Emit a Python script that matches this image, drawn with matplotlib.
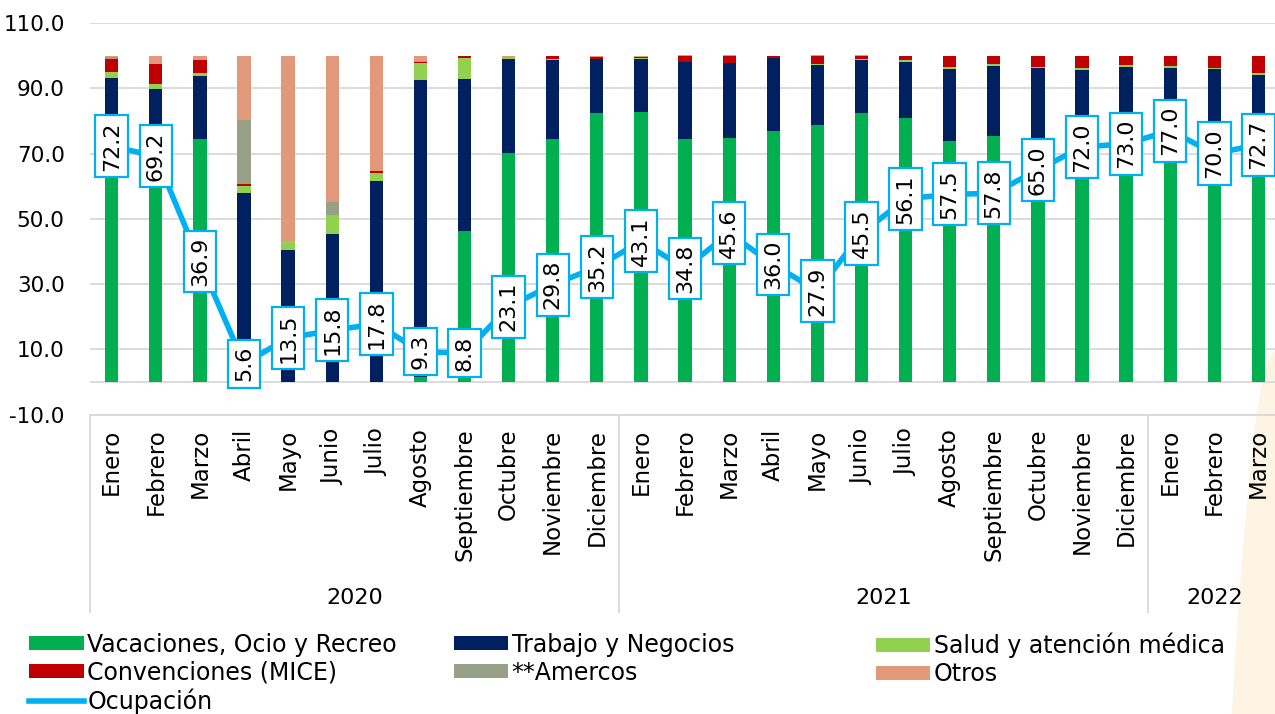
import numpy as np
import matplotlib
matplotlib.use("Agg")
import matplotlib.pyplot as plt
from matplotlib.patches import Polygon, Patch
from matplotlib.lines import Line2D
import matplotlib.transforms as mtransforms

plt.rcParams["font.family"] = ["DejaVu Sans"]

meses = ["Enero", "Febrero", "Marzo", "Abril", "Mayo", "Junio", "Julio", "Agosto",
         "Septiembre", "Octubre", "Noviembre", "Diciembre"]
categorias = meses + meses + ["Enero", "Febrero", "Marzo"]
years = ["2020", "2021", "2022"]
year_sizes = [12, 12, 3]

vacaciones = [76.0, 72.0, 74.4, 0.0, 0.0, 0.0, 0.0, 1.4, 46.4, 70.3, 74.4, 82.4,
              82.6, 74.4, 74.9, 77.0, 78.6, 82.3, 80.9, 73.8, 75.5, 72.0, 76.0, 78.0,
              80.0, 74.0, 78.0]
trabajo = [17.2, 17.8, 19.4, 58.0, 40.5, 45.2, 61.6, 91.1, 46.5, 28.6, 24.4, 16.5,
           16.5, 23.7, 22.7, 22.2, 18.4, 16.5, 17.3, 22.2, 21.3, 24.2, 19.7, 18.6,
           16.3, 21.8, 16.1]
salud = [1.8, 1.5, 1.0, 2.1, 2.8, 5.9, 2.4, 5.3, 6.5, 0.3, 0.1, 0.2,
         0.1, 0.1, 0.1, 0.1, 0.5, 0.1, 0.4, 0.4, 0.5, 0.3, 0.4, 0.4,
         0.4, 0.5, 0.7]
mice = [3.9, 6.2, 4.0, 0.6, 0.0, 0.0, 0.7, 0.1, 0.4, 0.2, 1.1, 0.6,
        0.4, 1.8, 2.3, 0.5, 2.5, 0.9, 1.3, 3.6, 2.7, 3.5, 3.9, 3.0,
        3.3, 3.7, 5.2]
amercos = [0.7, 0.0, 0.0, 19.5, 0.0, 4.2, 0.0, 0.6, 0.0, 0.0, 0.0, 0.0,
           0.0, 0.0, 0.0, 0.0, 0.0, 0.0, 0.0, 0.0, 0.0, 0.0, 0.0, 0.0,
           0.0, 0.0, 0.0]
otros = [0.4, 2.5, 1.2, 19.8, 56.7, 44.7, 35.3, 1.5, 0.2, 0.6, 0.0, 0.3,
         0.4, 0.1, 0.1, 0.2, 0.1, 0.3, 0.1, 0.0, 0.0, 0.0, 0.0, 0.0,
         0.0, 0.0, 0.0]
ocupacion = [72.2, 69.2, 36.9, 5.6, 13.5, 15.8, 17.8, 9.3, 8.8, 23.1, 29.8, 35.2,
             43.1, 34.8, 45.6, 36.0, 27.9, 45.5, 56.1, 57.5, 57.8, 65.0, 72.0, 73.0,
             77.0, 70.0, 72.7]

series = [
    ("Vacaciones, Ocio y Recreo", vacaciones, "#00B050"),
    ("Trabajo y Negocios", trabajo, "#002060"),
    ("Salud y atención médica", salud, "#92D050"),
    ("Convenciones (MICE)", mice, "#C00000"),
    ("**Amercos", amercos, "#97A187"),
    ("Otros", otros, "#E2997A"),
]
line_color = "#00B0F0"

fig = plt.figure(figsize=(12.75, 7.14), dpi=100)

# decorative cream shape at the right edge, behind everything
t = np.linspace(0, 1, 30)
shape_x = 1.0 - 0.034 * np.sqrt(t)
shape_y = 0.51 * (1 - t)
pts = list(zip(shape_x, shape_y)) + [(1.0, 0.0)]
fig.patches.append(Polygon(pts, closed=True, transform=fig.transFigure, facecolor="#FEF4E4",
                           edgecolor="none", zorder=-5))

ax = fig.add_axes([0.0703, 0.4193, 0.934, 0.5485])
ax.set_facecolor("none")
ax.set_zorder(1)

x = np.arange(len(categorias))
bottom = np.zeros(len(categorias))
for name, vals, col in series:
    ax.bar(x, vals, width=0.3, bottom=bottom, color=col, label=name, zorder=2)
    bottom += np.array(vals)

ax.plot(x, ocupacion, color=line_color, lw=4, zorder=3, solid_capstyle="round")
for xi, v in zip(x, ocupacion):
    ax.text(xi, v, f"{v:.1f}", rotation=90, ha="center", va="center", fontsize=16,
            zorder=4, bbox=dict(boxstyle="square,pad=0.28", fc="white", ec=line_color, lw=1.6))

ax.set_ylim(-10, 110)
ax.set_xlim(-0.5, len(categorias) - 0.5)
ax.set_yticks(np.arange(-10, 111, 20))
ax.yaxis.set_major_formatter(matplotlib.ticker.FormatStrFormatter("%.1f"))
ax.grid(axis="y", color="#D9D9D9", lw=1.3, zorder=0)
ax.axhline(0, color="#D9D9D9", lw=1.3, zorder=1)
ax.set_xticks(x)
ax.set_xticklabels(categorias, rotation=90, va="top", ha="center")
ax.tick_params(axis="x", length=0, pad=10, labelsize=16.5)
ax.tick_params(axis="y", length=0, pad=18, labelsize=15.5)
for s in ["top", "right", "left"]:
    ax.spines[s].set_visible(False)
ax.spines["bottom"].set_color("#D9D9D9")
ax.spines["bottom"].set_linewidth(1.3)

# year groups under the month labels
trans = mtransforms.blended_transform_factory(ax.transData, ax.transAxes)
start = -0.5
ax.plot([start, start], [0, -0.503], transform=trans, color="#D9D9D9", lw=1.3, clip_on=False)
for yr, n in zip(years, year_sizes):
    end = start + n
    ax.text((start + end) / 2, -0.467, yr, transform=trans, ha="center", va="center", fontsize=16)
    if end < len(categorias) - 0.5:
        ax.plot([end, end], [0, -0.503], transform=trans, color="#D9D9D9", lw=1.3, clip_on=False)
    start = end

# legend, laid out in rows like the original
handles = [Patch(facecolor=c, label=n) for n, _, c in series]
handles.append(Line2D([0], [0], color=line_color, lw=4, label="Ocupación"))
cols = [[handles[0], handles[3], handles[6]], [handles[1], handles[4]], [handles[2], handles[5]]]
xs = [0.023, 0.356, 0.687]
for hs, xpos in zip(cols, xs):
    fig.legend(handles=hs, loc="upper left", bbox_to_anchor=(xpos, 0.114), frameon=False,
               fontsize=17, handlelength=2.3, handleheight=0.55, handletextpad=0.15,
               labelspacing=0.17, borderaxespad=0, borderpad=0)

fig.savefig("out.png", dpi=100)
